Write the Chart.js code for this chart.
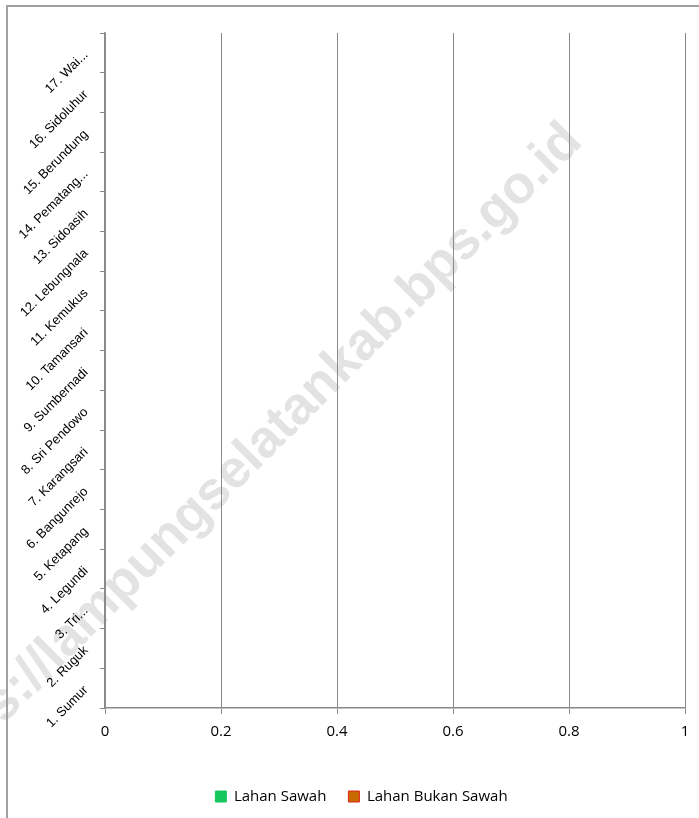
<!DOCTYPE html>
<html>
<head>
<meta charset="utf-8">
<script src="https://cdn.jsdelivr.net/npm/chart.js@4.4.1/dist/chart.umd.min.js"></script>
<style>
  html, body { margin: 0; padding: 0; background: #fff; }
  #wrap { width: 699px; height: 818px; position: relative; }
</style>
</head>
<body>
<div id="wrap"><canvas id="chartLahan"></canvas></div>
<script>
// desa / kelurahan, urutan dari bawah ke atas
const desa = [
    '1. Sumur', '2. Ruguk', '3. Tri...', '4. Legundi', '5. Ketapang',
    '6. Bangunrejo', '7. Karangsari', '8. Sri Pendowo', '9. Sumbernadi',
    '10. Tamansari', '11. Kemukus', '12. Lebungnala', '13. Sidoasih',
    '14. Pematang...', '15. Berundung', '16. Sidoluhur', '17. Wai...'
]
// grafik kosong: tidak ada batang yang terlihat
const lahanSawah      = [0, 0, 0, 0, 0, 0, 0, 0, 0, 0, 0, 0, 0, 0, 0, 0, 0]
const lahanBukanSawah = [0, 0, 0, 0, 0, 0, 0, 0, 0, 0, 0, 0, 0, 0, 0, 0, 0]
const sumbuX = { min : 0, max : 1, step : 0.2 }
const watermark = 'https://lampungselatankab.bps.go.id'

const abu = '#8a8a8a'

const latar = {
    id : 'latar',
    afterLayout(chart) {
        // legenda digeser sedikit ke kanan seperti aslinya
        if (chart.legend) chart.legend.left += 38
    },
    beforeDraw(chart) {
        const ctx = chart.ctx
        ctx.save()
        ctx.fillStyle = '#fff'
        ctx.fillRect(0, 0, chart.width, chart.height)
        // tanda air
        ctx.translate(248, 459)
        ctx.rotate(-45 * Math.PI / 180)
        ctx.font = 'bold 53px "Liberation Sans", Arial, sans-serif'
        ctx.fillStyle = '#e3e3e3'
        ctx.textAlign = 'center'
        ctx.textBaseline = 'middle'
        ctx.fillText(watermark, 0, 0)
        ctx.restore()
        // bingkai
        ctx.save()
        ctx.strokeStyle = '#a0a0a0'
        ctx.lineWidth = 2
        ctx.beginPath()
        ctx.moveTo(7, 830)
        ctx.lineTo(7, 6)
        ctx.lineTo(710, 6)
        ctx.stroke()
        ctx.restore()
    }
}

const canvas = document.getElementById('chartLahan')
const context = canvas.getContext('2d')

const chartLahan = new Chart(context, {
    type : 'bar',
    data : {
        labels : desa,
        datasets : [
            {
                label : 'Lahan Sawah',
                data : lahanSawah,
                backgroundColor : '#17c65f',
                borderColor : '#17c65f',
                borderWidth : 1
            },
            {
                label : 'Lahan Bukan Sawah',
                data : lahanBukanSawah,
                backgroundColor : '#c96a00',
                borderColor : '#e0201a',
                borderWidth : 1
            }
        ]
    },
    options : {
        indexAxis : 'y',
        responsive : true,
        maintainAspectRatio : false,
        animation : false,
        layout : { padding : { left : 0, top : 33, right : 14, bottom : 4 } },
        scales : {
            x : {
                stacked : true,
                min : sumbuX.min,
                max : sumbuX.max,
                ticks : {
                    stepSize : sumbuX.step,
                    color : '#000',
                    padding : 9,
                    font : { family : '"Open Sans", sans-serif', size : 15 },
                    callback : v => String(Math.round(v * 10) / 10)
                },
                grid : { color : abu, lineWidth : 1, tickLength : 6 },
                border : { color : abu, width : 1.5 },
                afterFit : s => { s.height = 59 }
            },
            y : {
                stacked : true,
                reverse : true,
                ticks : {
                    color : '#000',
                    minRotation : 45,
                    maxRotation : 45,
                    padding : 14,
                    autoSkip : false,
                    font : { family : '"Liberation Sans", Arial, sans-serif', size : 13 }
                },
                grid : { drawOnChartArea : false, color : abu, tickLength : 5, offset : true },
                border : { color : abu, width : 1.5 },
                afterFit : s => { s.width = 105 }
            }
        },
        plugins : {
            legend : {
                position : 'bottom',
                labels : {
                    boxWidth : 11,
                    boxHeight : 11,
                    padding : 22,
                    color : '#000',
                    font : { family : '"Open Sans", sans-serif', size : 15 }
                }
            },
            tooltip : { enabled : false }
        }
    },
    plugins : [latar]
})
</script>
</body>
</html>
